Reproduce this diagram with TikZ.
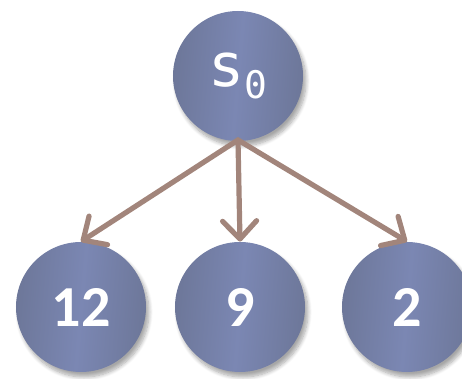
\documentclass[tikz,border=0pt]{standalone}
\usepackage{fontspec}
\setmainfont{Carlito}
\newfontfamily\monofont{DejaVu Sans Mono}
\usetikzlibrary{arrows.meta,shadows.blur}
\definecolor{balldark}{HTML}{6D7799}
\definecolor{balllight}{HTML}{7B87B3}
\definecolor{edgebrown}{HTML}{A2857B}
\tikzset{
  ball/.style={circle, minimum size=65pt, inner sep=0pt,
    left color=balldark, right color=balldark, middle color=balllight,
    shading angle=85,
    blur shadow={shadow xshift=1.5pt, shadow yshift=-2.5pt, shadow blur steps=8, shadow opacity=35},
    text=white, font=\bfseries\fontsize{29}{30}\selectfont},
  link/.style={draw=edgebrown, line width=2.6pt, line cap=round,
    -{Straight Barb[length=9pt, width=17pt, line width=2.6pt, round]}}
}
\begin{document}
\begin{tikzpicture}[x=0.5pt, y=-0.5pt]
  \useasboundingbox (0,0) rectangle (462,379);
  \node[ball] (root) at (238,76) {\monofont\mdseries\fontsize{30}{32}\selectfont\raisebox{-0.2ex}{s}\raisebox{-0.55ex}{\fontsize{19}{20}\selectfont 0}};
  \node[ball] (a) at (81,307) {12};
  \node[ball] (b) at (240,307) {9};
  \node[ball] (c) at (407,307) {2};
  \coordinate (fork) at (238,140);
  \draw[link] (fork) -- (a.north);
  \draw[link] (fork) -- (b.north);
  \draw[link] (fork) -- (c.north);
\end{tikzpicture}
\end{document}
